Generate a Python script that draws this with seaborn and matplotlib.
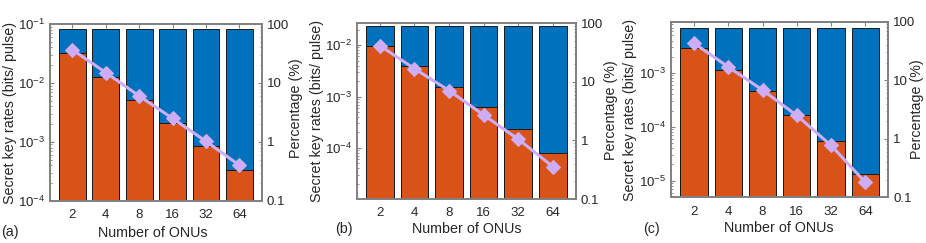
import numpy as np
import matplotlib
matplotlib.use("Agg")
import matplotlib.pyplot as plt
import seaborn as sns
from matplotlib.ticker import LogLocator, NullFormatter, FuncFormatter, FixedLocator

# ---------------- data ----------------
onus = ["2", "4", "8", "16", "32", "64"]

total_a = [0.083, 0.083, 0.083, 0.083, 0.083, 0.083]
skr_a = [0.0319, 0.0125, 0.00515, 0.0021, 0.000855, 0.00033]
pct_a = [36.5, 15.0, 6.0, 2.5, 1.02, 0.40]

total_b = [0.0238, 0.0238, 0.0238, 0.0238, 0.0238, 0.0238]
skr_b = [0.0097, 0.00395, 0.00156, 0.00063, 0.000238, 8.1e-5]
pct_b = [41.5, 16.8, 7.1, 2.72, 1.05, 0.357]

total_c = [0.0069, 0.0069, 0.0069, 0.0069, 0.0069, 0.0069]
skr_c = [0.00287, 0.00116, 0.00046, 0.000169, 5.5e-5, 1.31e-5]
pct_c = [43.0, 16.9, 6.8, 2.5, 0.77, 0.18]

panel_labels = ["(a)", "(b)", "(c)"]
left_ylims = [(1e-4, 1e-1), (1.02e-5, 0.0265), (4.9e-6, 9e-3)]

# ---------------- style ----------------
sns.set_style("ticks")
plt.rcParams["font.family"] = ["Liberation Sans", "DejaVu Sans"]
plt.rcParams["mathtext.fontset"] = "custom"
plt.rcParams["mathtext.rm"] = "Liberation Sans"
plt.rcParams["mathtext.it"] = "Liberation Sans:italic"

TXT = "#262626"
SPINE = "#808080"
BLUE = "#0072BD"
ORANGE = "#D95319"
LAV = "#CDAEF6"
TICK_FS = 9.5
LAB_FS = 10.3

W, H = 926, 243
fig = plt.figure(figsize=(W / 100, H / 100), dpi=100)

# axes boxes in pixels: left, right, top, bottom
boxes = [(50, 261.7, 24, 200.7), (356.7, 576, 23.3, 199), (671, 888.3, 21.7, 197.3)]
xlab_pos = [(153, 232.7), (466.8, 229.3), (778.8, 228)]
ylab_l_pos = [(10, 113), (317, 111), (630, 110)]
ylab_r_pos = [(296, 108.5), (611, 110), (917.5, 109.5)]
letter_pos = [(9.5, 232), (344, 229), (651, 229)]

datasets = [(total_a, skr_a, pct_a), (total_b, skr_b, pct_b), (total_c, skr_c, pct_c)]


def fx(px):
    return px / W


def fy(py):
    return 1 - py / H


for i, ((tot, skr, pct), (l, r, t, b)) in enumerate(zip(datasets, boxes)):
    ax = fig.add_axes([fx(l), fy(b), (r - l) / W, (b - t) / H])
    sns.barplot(x=onus, y=tot, ax=ax, color=BLUE, saturation=1, width=0.8,
                edgecolor="#1a1a1a", linewidth=0.7)
    sns.barplot(x=onus, y=skr, ax=ax, color=ORANGE, saturation=1, width=0.8,
                edgecolor="#1a1a1a", linewidth=0.7)
    ax.set_yscale("log")
    ax.set_ylim(*left_ylims[i])
    ax.yaxis.set_major_locator(LogLocator(base=10, numticks=20))
    ax.yaxis.set_minor_locator(LogLocator(base=10, subs=np.arange(2, 10), numticks=20))
    ax.yaxis.set_minor_formatter(NullFormatter())

    ax2 = ax.twinx()
    sns.lineplot(x=np.arange(len(onus)), y=pct, ax=ax2, color=LAV, linewidth=2.2,
                 marker="D", markersize=7.5, markeredgecolor=LAV, markerfacecolor=LAV)
    ax2.set_yscale("log")
    ax2.set_ylim(0.1, 100)
    ax2.yaxis.set_major_locator(FixedLocator([0.1, 1, 10, 100]))
    ax2.yaxis.set_major_formatter(FuncFormatter(lambda v, p: f"{v:g}"))
    ax2.yaxis.set_minor_locator(LogLocator(base=10, subs=np.arange(2, 10), numticks=20))
    ax2.yaxis.set_minor_formatter(NullFormatter())
    ax.set_xlim(-0.67, 5.67)
    ax2.set_xlim(-0.67, 5.67)

    for a in (ax, ax2):
        for s in a.spines.values():
            s.set_color(SPINE)
            s.set_linewidth(1.2)
        a.tick_params(which="both", direction="in", colors=SPINE, labelcolor=TXT,
                      labelsize=TICK_FS)
        a.tick_params(which="major", length=3, width=0.8)
        a.tick_params(which="minor", length=1.6, width=0.6)
    ax.tick_params(axis="x", top=True, bottom=True, length=3)
    ax.tick_params(axis="y", left=True, right=False)
    ax2.tick_params(axis="y", left=False, right=True)
    ax.tick_params(axis="x", pad=6)

    ax.set_xlabel("Number of ONUs", fontsize=LAB_FS, color=TXT)
    ax.xaxis.set_label_coords(fx(xlab_pos[i][0]), fy(xlab_pos[i][1]), transform=fig.transFigure)
    ax.xaxis.label.set_va("center")
    ax.xaxis.label.set_ha("center")

    ax.set_ylabel("Secret key rates (bits/ pulse)", fontsize=LAB_FS, color=TXT)
    ax.yaxis.set_label_coords(fx(ylab_l_pos[i][0]), fy(ylab_l_pos[i][1]), transform=fig.transFigure)
    ax.yaxis.label.set_va("center")
    ax.yaxis.label.set_ha("center")

    ax2.set_ylabel("Percentage (%)", fontsize=LAB_FS, color=TXT)
    ax2.yaxis.set_label_coords(fx(ylab_r_pos[i][0]), fy(ylab_r_pos[i][1]), transform=fig.transFigure)
    ax2.yaxis.label.set_va("center")
    ax2.yaxis.label.set_ha("center")
    ax2.yaxis.label.set_rotation(90)

    fig.text(fx(letter_pos[i][0]), fy(letter_pos[i][1]), panel_labels[i],
             fontsize=LAB_FS, color=TXT, ha="center", va="center")

fig.savefig("out.png", dpi=100)
